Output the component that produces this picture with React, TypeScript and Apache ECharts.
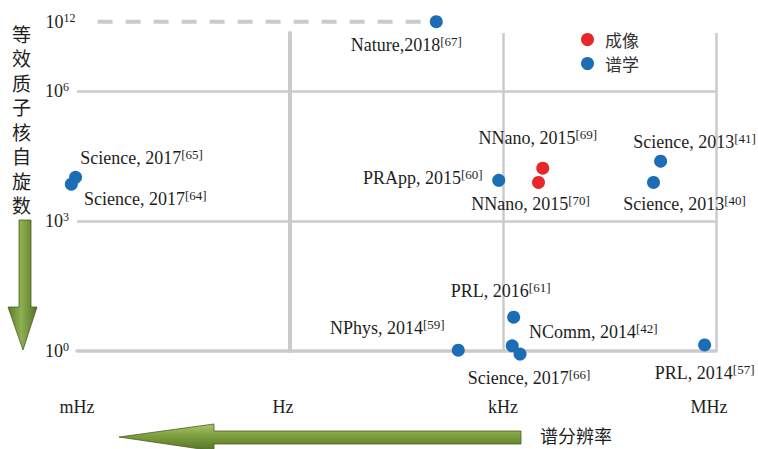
import React, { useEffect, useRef } from "react";
import * as echarts from "echarts";

// Spectral resolution as log10(Hz), spin count as log10(N)
const imagingRefs = ["NNano, 2015", "NNano, 2015"];
const imagingCites = ["69", "70"];
const imagingFreqLog = [3.56, 3.5];
const imagingSpinsLog = [4.22, 3.89];

const spectroRefs = [
  "Nature,2018",
  "Science, 2017",
  "Science, 2017",
  "PRApp, 2015",
  "Science, 2013",
  "Science, 2013",
  "PRL, 2016",
  "NPhys, 2014",
  "NComm, 2014",
  "Science, 2017",
  "PRL, 2014",
];
const spectroCites = ["67", "65", "64", "60", "41", "40", "61", "59", "42", "66", "57"];
const spectroFreqLog = [2.06, -3.02, -3.08, 2.94, 5.22, 5.12, 3.15, 2.37, 3.13, 3.24, 5.84];
const spectroSpinsLog = [12, 4.01, 3.85, 3.94, 4.38, 3.89, 0.78, 0.02, 0.12, -0.07, 0.14];

const freqTickLogs = [-3, 0, 3, 6];
const freqTickLabels = ["mHz", "Hz", "kHz", "MHz"];
const spinTickLogs = [0, 3, 6, 12];

// label placement (offset of label centre from its point, px)
const imagingLabelOffsets = [
  [-5, -30],
  [-8, 22],
];
const spectroLabelOffsets = [
  [-30, 23],
  [66, -19],
  [74, 15],
  [-76, -2],
  [34, -19],
  [31, 22],
  [-13, -26],
  [-71, -22],
  [81, -14],
  [9, 24],
  [0, 28],
];

// the axis is broken above 10^6: decades beyond it are compressed
const BREAK_AT = 6;
const BREAK_SCALE = 0.267;
const toAxis = (e: number) => (e <= BREAK_AT ? e : BREAK_AT + (e - BREAK_AT) * BREAK_SCALE);
const FRAME_TOP = 7.34;
const DASH_START = -2.71;

const SERIF = "'Liberation Serif', 'Times New Roman', serif";
const CJK = "'Noto Sans CJK SC', sans-serif";
const TEXT = "#1e1e1e";
const GRID = "#cbcbcb";

const richLabel = {
  m: { fontFamily: SERIF, fontSize: 18, color: TEXT, lineHeight: 20 },
  s: { fontFamily: SERIF, fontSize: 13, color: TEXT, lineHeight: 13, verticalAlign: "top" as const },
};
const richTick = {
  m: { fontFamily: SERIF, fontSize: 18, color: TEXT, lineHeight: 20 },
  s: { fontFamily: SERIF, fontSize: 12, color: TEXT, lineHeight: 12, verticalAlign: "top" as const },
};

function buildPoints(
  refs: string[],
  cites: string[],
  xs: number[],
  ys: number[],
  offsets: number[][]
) {
  return refs.map((r, i) => ({
    value: [xs[i], toAxis(ys[i])],
    label: {
      show: true,
      position: "inside",
      align: "center",
      verticalAlign: "middle",
      offset: offsets[i],
      formatter: `{m|${r}}{s|[${cites[i]}]}`,
      rich: richLabel,
    },
  }));
}

const greenH = new echarts.graphic.LinearGradient(0, 0, 0, 1, [
  { offset: 0, color: "#a9c56c" },
  { offset: 0.45, color: "#7d9e3d" },
  { offset: 1, color: "#55722a" },
]);
const greenV = new echarts.graphic.LinearGradient(0, 0, 1, 0, [
  { offset: 0, color: "#5b7a2c" },
  { offset: 0.45, color: "#8fb04f" },
  { offset: 1, color: "#55722a" },
]);

export default function App() {
  const ref = useRef<HTMLDivElement>(null);

  useEffect(() => {
    if (!ref.current) return;
    const chart = echarts.init(ref.current, undefined, { renderer: "svg" });
    const y12 = toAxis(spinTickLogs[3]);

    chart.setOption({
      animation: false,
      backgroundColor: "#ffffff",
      grid: { left: 77, right: 42, top: 33, bottom: 98 },
      legend: {
        orient: "vertical",
        left: 581,
        top: 31,
        padding: 0,
        itemWidth: 13,
        itemHeight: 13,
        itemGap: 7,
        icon: "circle",
        data: ["成像", "谱学"],
        textStyle: { fontFamily: CJK, fontSize: 17, color: "#333", padding: [0, 0, 0, 6] },
      },
      xAxis: {
        type: "value",
        min: -3,
        max: 6,
        interval: 3,
        axisLine: { show: true, lineStyle: { color: GRID, width: 3.5 } },
        axisTick: { show: false },
        splitLine: { show: true, showMinLine: false, lineStyle: { color: GRID, width: 2.5 } },
        axisLabel: {
          margin: 47,
          formatter: (v: number) => {
            const i = freqTickLogs.indexOf(Math.round(v));
            if (i < 0) return "";
            return i === 0 || i === 2 ? `{n|${freqTickLabels[i]}}` : `{r|${freqTickLabels[i]}}`;
          },
          rich: {
            n: { fontFamily: SERIF, fontSize: 18, color: TEXT },
            r: { fontFamily: SERIF, fontSize: 18, color: TEXT, padding: [0, 14, 0, 0] },
          },
        },
      },
      yAxis: {
        type: "value",
        min: 0,
        max: FRAME_TOP,
        interval: 3,
        axisLine: { show: true, lineStyle: { color: GRID, width: 4 } },
        axisTick: { show: false },
        splitLine: { show: true, showMinLine: false, showMaxLine: false, lineStyle: { color: GRID, width: 2.5 } },
        axisLabel: {
          showMaxLabel: false,
          align: "left",
          margin: 32,
          formatter: (v: number) => {
            const e = spinTickLogs.find((t) => Math.abs(toAxis(t) - v) < 1e-6);
            return e === undefined ? "" : `{m|10}{s|${e}}`;
          },
          rich: richTick,
        },
      },
      series: [
        {
          type: "line",
          name: "break",
          silent: true,
          clip: false,
          z: 1,
          symbol: "circle",
          symbolSize: 0,
          showSymbol: true,
          lineStyle: { color: GRID, width: 4, type: [15, 13] },
          data: [
            {
              value: [DASH_START, y12],
              label: {
                show: true,
                position: "left",
                distance: 22,
                formatter: `{m|10}{s|${spinTickLogs[3]}}`,
                rich: richTick,
              },
            },
            { value: [spectroFreqLog[0], y12] },
          ],
        },
        {
          type: "scatter",
          name: "成像",
          clip: false,
          z: 3,
          symbolSize: 13,
          itemStyle: { color: "#e8272b", opacity: 1 },
          data: buildPoints(imagingRefs, imagingCites, imagingFreqLog, imagingSpinsLog, imagingLabelOffsets),
        },
        {
          type: "scatter",
          name: "谱学",
          clip: false,
          z: 3,
          symbolSize: 13,
          itemStyle: { color: "#1c6db5", opacity: 1 },
          data: buildPoints(spectroRefs, spectroCites, spectroFreqLog, spectroSpinsLog, spectroLabelOffsets),
        },
      ],
      graphic: [
        {
          type: "text",
          left: 12,
          top: 21,
          style: {
            text: "等\n效\n质\n子\n核\n自\n旋\n数",
            font: `19px ${CJK}`,
            lineHeight: 24.5,
            fill: TEXT,
          },
        },
        {
          type: "polygon",
          shape: {
            points: [
              [19, 220],
              [31, 220],
              [31, 307],
              [37, 307],
              [23, 350],
              [8, 307],
              [19, 307],
            ],
          },
          style: { fill: greenV, stroke: "#4a5f25", lineWidth: 0.8 },
        },
        {
          type: "polygon",
          shape: {
            points: [
              [119, 437],
              [214, 424],
              [214, 431],
              [521, 431],
              [521, 444],
              [214, 444],
              [214, 451],
            ],
          },
          style: { fill: greenH, stroke: "#4a5f25", lineWidth: 0.8 },
        },
        {
          type: "text",
          left: 540,
          top: 426,
          style: { text: "谱分辨率", font: `18px ${CJK}`, fill: TEXT },
        },
      ],
    });

    return () => chart.dispose();
  }, []);

  return (
    <div
      ref={ref}
      style={{ position: "absolute", left: 0, top: 0, width: 758, height: 449 }}
    />
  );
}
